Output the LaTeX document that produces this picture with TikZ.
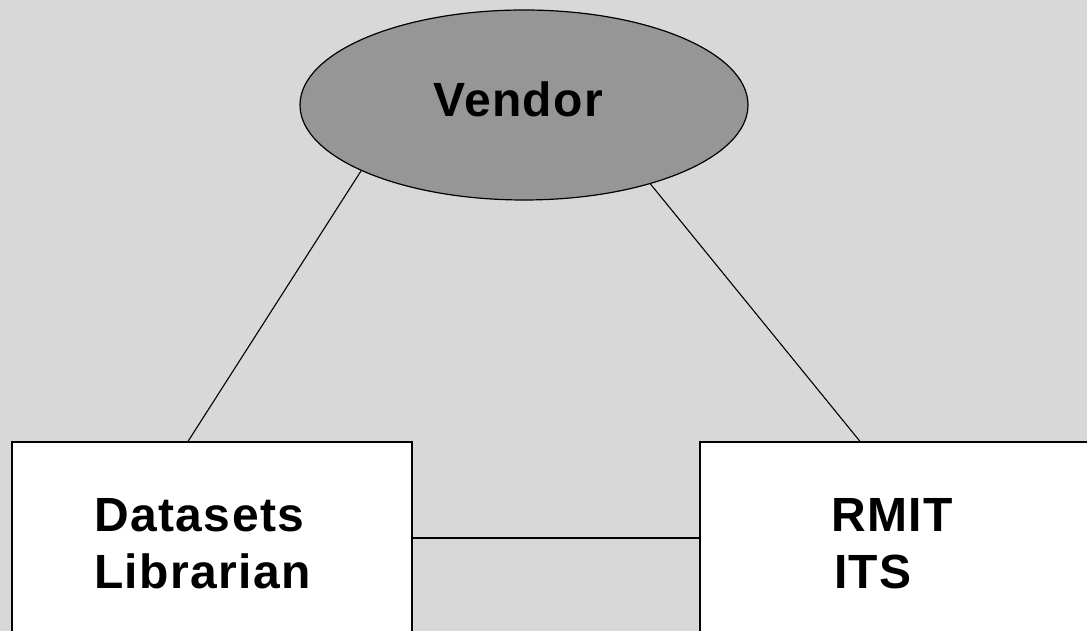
\documentclass[tikz,border=0pt]{standalone}
\usepackage{fontspec}
\setmainfont{Liberation Sans}[LetterSpace=3.0]
\usetikzlibrary{shapes.geometric}
\definecolor{bggray}{RGB}{216,216,216}
\definecolor{vendgray}{RGB}{150,150,150}
\begin{document}
\begin{tikzpicture}[x=1pt,y=1pt,
  lbl/.style={inner sep=0pt, anchor=base west, font=\fontsize{48}{57}\selectfont\bfseries},
  boxnode/.style={draw=black, line width=1.2pt, fill=white, rectangle, inner sep=0pt},
  link/.style={draw=black, line width=1.1pt}]
\useasboundingbox (0,0) rectangle (1087,631);
\clip (0,0) rectangle (1087,631);
\fill[bggray] (0,0) rectangle (1087,631);
\node[ellipse, draw=black, line width=1.2pt, fill=vendgray, minimum width=448pt, minimum height=190pt, inner sep=0pt] (vendor) at (524,526) {};
\node[boxnode, minimum width=400pt, minimum height=239pt] (lib) at (212,69.5) {};
\node[boxnode, minimum width=440pt, minimum height=239pt] (its) at (920,69.5) {};
\node[lbl] (tv) at (433,514) {Vendor};
\node[lbl] (td) at (94,99) {Datasets};
\node[lbl] (tl) at (94,42) {Librarian};
\node[lbl] (tr) at (831,99) {RMIT};
\node[lbl] (ti) at (834,42) {ITS};
\draw[link] (vendor.202) -- ([xshift=-24pt]lib.north);
\draw[link] (vendor.328) -- ([xshift=-60pt]its.north);
\draw[link] ([yshift=23.5pt]lib.east) -- ([yshift=23.5pt]its.west);
\end{tikzpicture}
\end{document}
